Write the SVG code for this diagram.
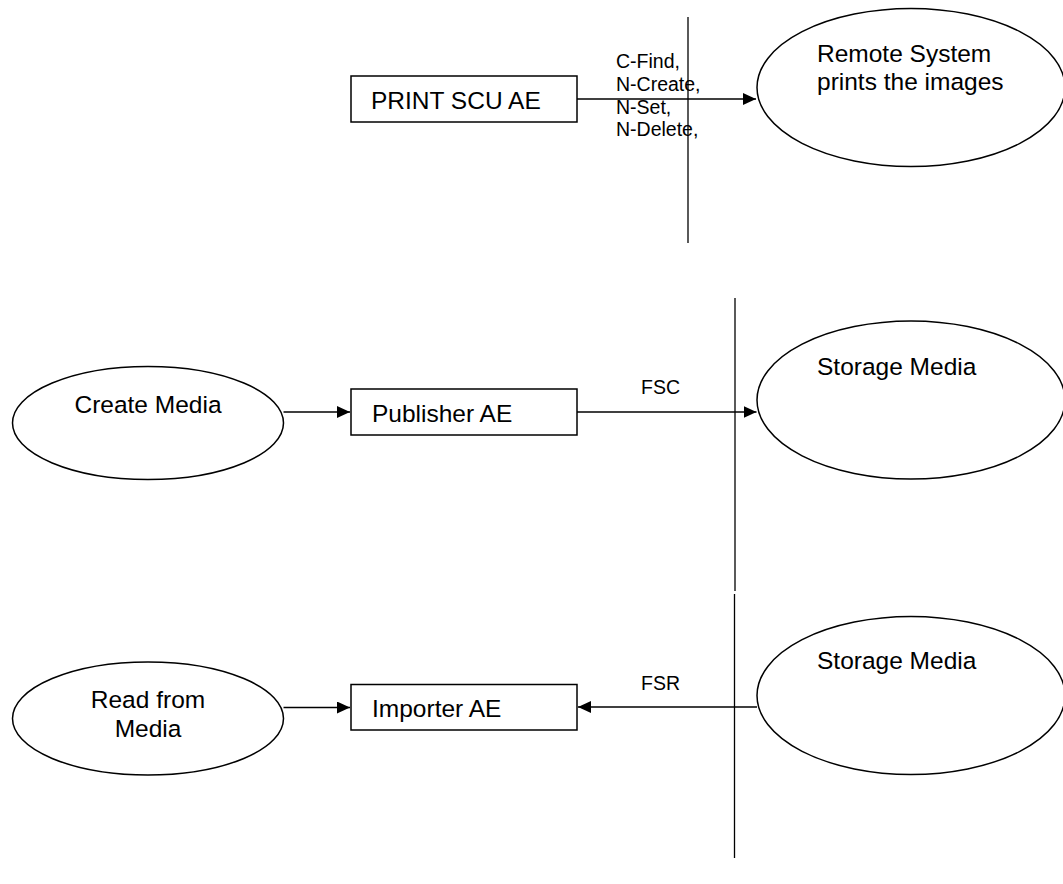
<svg xmlns="http://www.w3.org/2000/svg" width="1063" height="884" viewBox="0 0 1063 884">
<style>
.shape{fill:#fff;stroke:#000;stroke-width:1.5}
.txt{font-family:"Liberation Sans",Arial,sans-serif;font-size:24.5px;fill:#000}
.lbl{font-family:"Liberation Sans",Arial,sans-serif;font-size:19.5px;fill:#000}
.conn{stroke:#000;stroke-width:1.5;fill:none}
.bound{stroke:#000;stroke-width:1.3;fill:none}
</style>
<defs>
<marker id="arr" markerUnits="userSpaceOnUse" markerWidth="14" markerHeight="12" refX="13" refY="6" orient="auto">
<path d="M0,0 L13,6 L0,12 z" fill="#000"/>
</marker>
</defs>
<rect width="1063" height="884" fill="#fff"/>
<g id="boundaries">
<line class="bound" x1="688" y1="17" x2="688" y2="243"/>
<line class="bound" x1="735" y1="298" x2="735" y2="591"/>
<line class="bound" x1="734.5" y1="594" x2="734.5" y2="858"/>
</g>
<g id="node-print-scu">
<rect class="shape" x="351" y="76" width="226" height="46"/>
<text class="txt" x="371" y="109">PRINT SCU AE</text>
</g>
<g id="node-remote-system">
<ellipse class="shape" cx="911" cy="87.5" rx="154" ry="79"/>
<text class="txt" x="817" y="62">Remote System</text>
<text class="txt" x="817" y="90">prints the images</text>
</g>
<g id="node-create-media">
<ellipse class="shape" cx="148" cy="423" rx="135.5" ry="56.5"/>
<text class="txt" x="148" y="413" text-anchor="middle">Create Media</text>
</g>
<g id="node-publisher">
<rect class="shape" x="351" y="389" width="226" height="46"/>
<text class="txt" x="372" y="422">Publisher AE</text>
</g>
<g id="node-storage-1">
<ellipse class="shape" cx="911" cy="400" rx="154" ry="79"/>
<text class="txt" x="817" y="375">Storage Media</text>
</g>
<g id="node-read-media">
<ellipse class="shape" cx="148" cy="718.5" rx="135.5" ry="56.5"/>
<text class="txt" x="148" y="708" text-anchor="middle">Read from</text>
<text class="txt" x="148" y="737" text-anchor="middle">Media</text>
</g>
<g id="node-importer">
<rect class="shape" x="351" y="684.5" width="226" height="45.5"/>
<text class="txt" x="372" y="717">Importer AE</text>
</g>
<g id="node-storage-2">
<ellipse class="shape" cx="911" cy="695.5" rx="154" ry="79"/>
<text class="txt" x="817" y="669">Storage Media</text>
</g>
<g id="connectors">
<line class="conn" x1="577" y1="99" x2="756" y2="99" marker-end="url(#arr)"/>
<text class="lbl" x="616" y="68">C-Find,</text>
<text class="lbl" x="616" y="91">N-Create,</text>
<text class="lbl" x="616" y="113.5">N-Set,</text>
<text class="lbl" x="616" y="136">N-Delete,</text>
<line class="conn" x1="283.5" y1="412" x2="350" y2="412" marker-end="url(#arr)"/>
<line class="conn" x1="577" y1="412" x2="756.5" y2="412" marker-end="url(#arr)"/>
<text class="lbl" x="641" y="394">FSC</text>
<line class="conn" x1="283.5" y1="707.5" x2="350" y2="707.5" marker-end="url(#arr)"/>
<line class="conn" x1="757" y1="707" x2="578" y2="707" marker-end="url(#arr)"/>
<text class="lbl" x="641" y="690">FSR</text>
</g>
</svg>
